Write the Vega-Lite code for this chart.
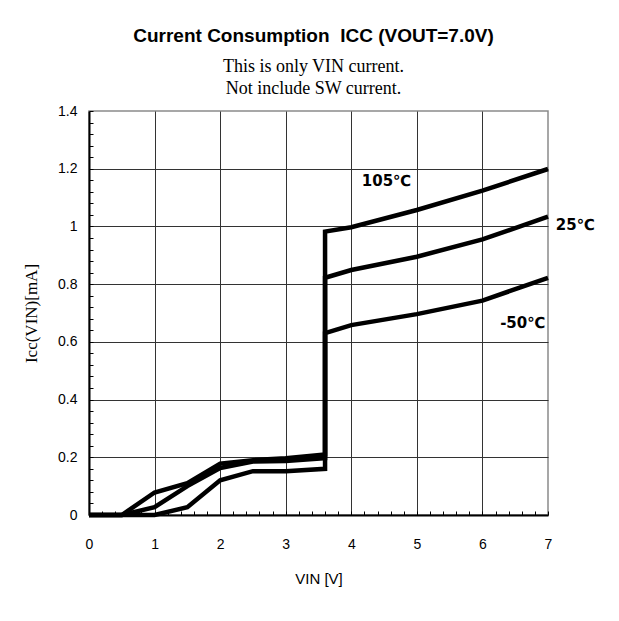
{
  "$schema": "https://vega.github.io/schema/vega-lite/v6.json",
  "width": 459,
  "height": 404,
  "autosize": {"type": "none"},
  "padding": {"left": 89, "top": 111, "right": 71, "bottom": 106},
  "background": "white",
  "config": {
    "view": {"stroke": "#8a8a8a", "strokeWidth": 1.5},
    "axis": {
      "domainColor": "black",
      "domainWidth": 2,
      "tickColor": "black",
      "tickWidth": 1,
      "tickSize": -4,
      "tickCount": 200,
      "gridColor": "#333",
      "gridWidth": 1,
      "labelFont": "Liberation Sans",
      "labelFontSize": 14,
      "labelColor": "black",
      "labelOverlap": false,
      "labelFlush": false,
      "titleColor": "black",
      "titleFontWeight": "normal"
    }
  },
  "title": {
    "text": "Current Consumption\u00a0 ICC (VOUT=7.0V)",
    "subtitle": ["This is only VIN current.", "Not include SW current."],
    "font": "Liberation Sans",
    "fontSize": 19,
    "fontWeight": "bold",
    "color": "black",
    "subtitleFont": "Liberation Serif",
    "subtitleFontSize": 18,
    "subtitleColor": "black",
    "subtitleLineHeight": 22,
    "subtitlePadding": 12,
    "anchor": "middle",
    "dx": -5,
    "offset": 6
  },
  "datasets": {
    "curves": [
      {"series": "105", "idx": 0, "vin": 0, "icc": 0},
      {"series": "105", "idx": 1, "vin": 0.5, "icc": 0},
      {"series": "105", "idx": 2, "vin": 1, "icc": 0.078},
      {"series": "105", "idx": 3, "vin": 1.5, "icc": 0.11},
      {"series": "105", "idx": 4, "vin": 2, "icc": 0.178},
      {"series": "105", "idx": 5, "vin": 2.5, "icc": 0.19},
      {"series": "105", "idx": 6, "vin": 3, "icc": 0.197},
      {"series": "105", "idx": 7, "vin": 3.6, "icc": 0.21},
      {"series": "105", "idx": 8, "vin": 3.6, "icc": 0.982},
      {"series": "105", "idx": 9, "vin": 4, "icc": 0.997},
      {"series": "105", "idx": 10, "vin": 5, "icc": 1.057},
      {"series": "105", "idx": 11, "vin": 6, "icc": 1.124},
      {"series": "105", "idx": 12, "vin": 7, "icc": 1.199},
      {"series": "25", "idx": 0, "vin": 0, "icc": 0},
      {"series": "25", "idx": 1, "vin": 0.5, "icc": 0},
      {"series": "25", "idx": 2, "vin": 1, "icc": 0.027},
      {"series": "25", "idx": 3, "vin": 1.5, "icc": 0.1},
      {"series": "25", "idx": 4, "vin": 2, "icc": 0.163},
      {"series": "25", "idx": 5, "vin": 2.5, "icc": 0.185},
      {"series": "25", "idx": 6, "vin": 3, "icc": 0.187},
      {"series": "25", "idx": 7, "vin": 3.6, "icc": 0.197},
      {"series": "25", "idx": 8, "vin": 3.6, "icc": 0.822},
      {"series": "25", "idx": 9, "vin": 4, "icc": 0.849},
      {"series": "25", "idx": 10, "vin": 5, "icc": 0.895},
      {"series": "25", "idx": 11, "vin": 6, "icc": 0.955},
      {"series": "25", "idx": 12, "vin": 7, "icc": 1.034},
      {"series": "-50", "idx": 0, "vin": 0, "icc": 0},
      {"series": "-50", "idx": 1, "vin": 0.5, "icc": 0},
      {"series": "-50", "idx": 2, "vin": 1, "icc": 0},
      {"series": "-50", "idx": 3, "vin": 1.5, "icc": 0.027},
      {"series": "-50", "idx": 4, "vin": 2, "icc": 0.12},
      {"series": "-50", "idx": 5, "vin": 2.5, "icc": 0.152},
      {"series": "-50", "idx": 6, "vin": 3, "icc": 0.152},
      {"series": "-50", "idx": 7, "vin": 3.6, "icc": 0.16},
      {"series": "-50", "idx": 8, "vin": 3.6, "icc": 0.63},
      {"series": "-50", "idx": 9, "vin": 4, "icc": 0.658},
      {"series": "-50", "idx": 10, "vin": 5, "icc": 0.696},
      {"series": "-50", "idx": 11, "vin": 6, "icc": 0.743},
      {"series": "-50", "idx": 12, "vin": 7, "icc": 0.822}
    ],
    "labels": [
      {"text": "105℃", "vin": 4.16, "icc": 1.157},
      {"text": "25℃", "vin": 7.12, "icc": 1.005},
      {"text": "-50℃", "vin": 6.27, "icc": 0.665}
    ]
  },
  "layer": [
    {
      "data": {"name": "curves"},
      "mark": {"type": "line", "color": "black", "strokeWidth": 4.5, "strokeJoin": "miter", "strokeCap": "butt"},
      "encoding": {
        "x": {
          "field": "vin", "type": "quantitative",
          "scale": {"domain": [0, 7], "nice": false, "zero": false},
          "axis": {
            "title": "VIN [V]",
            "titleFont": "Liberation Sans",
            "titleFontSize": 15,
            "titlePadding": 20,
            "labelPadding": 26,
            "values": [0,0.2,0.4,0.6,0.8,1,1.2,1.4,1.6,1.8,2,2.2,2.4,2.6,2.8,3,3.2,3.4,3.6,3.8,4,4.2,4.4,4.6,4.8,5,5.2,5.4,5.6,5.8,6,6.2,6.4,6.6,6.8,7],
            "labelExpr": "abs(datum.value - round(datum.value)) < 0.001 ? format(datum.value, 'd') : ''",
            "gridOpacity": {"condition": {"test": "abs(datum.value - round(datum.value)) < 0.001 && datum.value > 0.5 && datum.value < 6.5", "value": 1}, "value": 0}
          }
        },
        "y": {
          "field": "icc", "type": "quantitative",
          "scale": {"domain": [0, 1.4], "nice": false},
          "axis": {
            "title": "Icc(VIN)[mA]",
            "titleFont": "Liberation Serif",
            "titleFontSize": 17,
            "titlePadding": 17,
            "labelPadding": 16,
            "values": [0,0.04,0.08,0.12,0.16,0.2,0.24,0.28,0.32,0.36,0.4,0.44,0.48,0.52,0.56,0.6,0.64,0.68,0.72,0.76,0.8,0.84,0.88,0.92,0.96,1,1.04,1.08,1.12,1.16,1.2,1.24,1.28,1.32,1.36,1.4],
            "labelExpr": "abs(datum.value * 5 - round(datum.value * 5)) < 0.001 ? format(datum.value, '~g') : ''",
            "gridOpacity": {"condition": {"test": "abs(datum.value * 5 - round(datum.value * 5)) < 0.001 && datum.value > 0.1 && datum.value < 1.3", "value": 1}, "value": 0}
          }
        },
        "detail": {"field": "series", "type": "nominal"},
        "order": {"field": "idx", "type": "quantitative"}
      }
    },
    {
      "data": {"name": "labels"},
      "mark": {"type": "text", "align": "left", "baseline": "middle", "font": "DejaVu Sans", "fontWeight": "bold", "fontSize": 15, "color": "black"},
      "encoding": {
        "x": {"field": "vin", "type": "quantitative"},
        "y": {"field": "icc", "type": "quantitative"},
        "text": {"field": "text", "type": "nominal"}
      }
    }
  ]
}
